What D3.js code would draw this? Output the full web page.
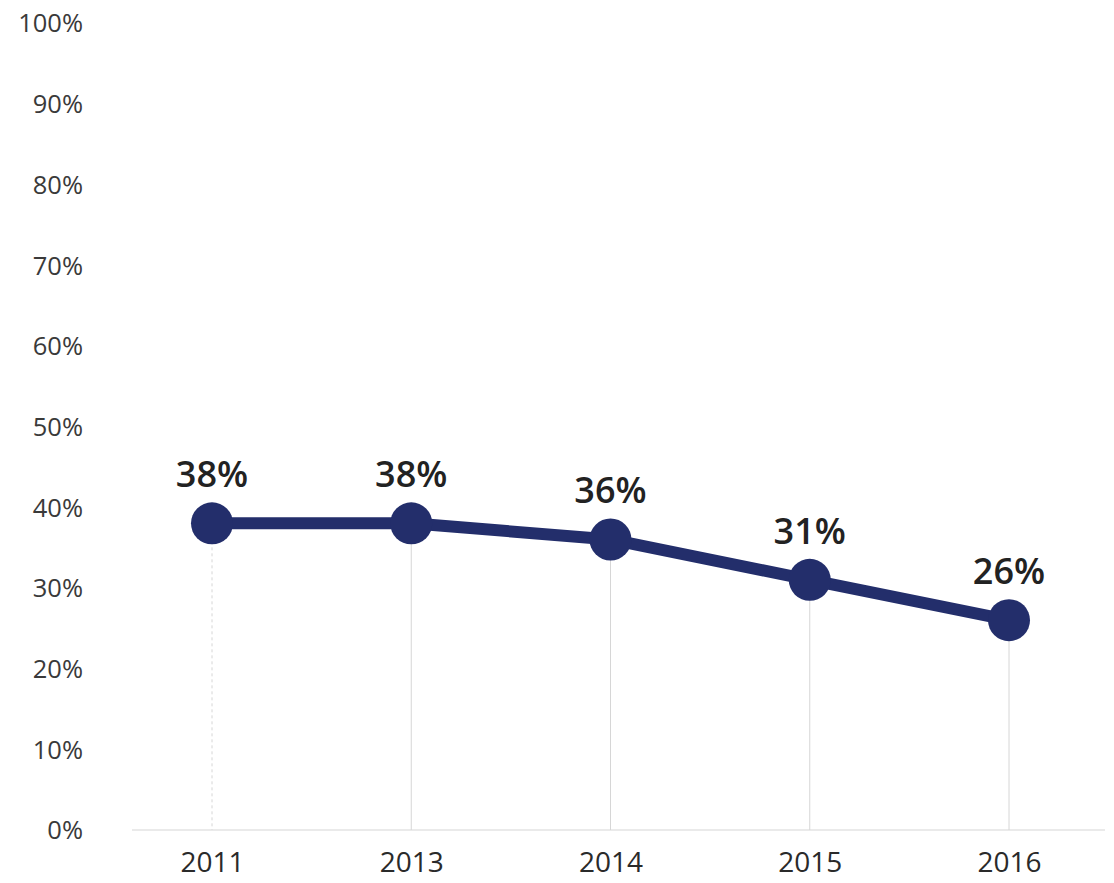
<!DOCTYPE html>
<html><head><meta charset="utf-8">
<script src="https://cdn.jsdelivr.net/npm/d3@7"></script>
<style>body{margin:0;background:#fff;}svg{display:block;}</style>
</head><body>
<svg id="chart" width="1114" height="883"></svg>
<script>
const years = ["2011","2013","2014","2015","2016"];
const values = [38, 38, 36, 31, 26];
const yTicks = [0,10,20,30,40,50,60,70,80,90,100];

const svg = d3.select("#chart");
const x = d3.scalePoint().domain(years).range([212, 1009]);
const y = d3.scaleLinear().domain([0,100]).range([830, 23]);
const navy = "#232e6b";
const font = "'Open Sans', sans-serif";

// baseline
svg.append("line").attr("x1",132).attr("x2",1105).attr("y1",y(0)).attr("y2",y(0))
  .attr("stroke","#e3e3e3").attr("stroke-width",1.5);

// y axis
const yAxis = d3.axisLeft(y).tickValues(yTicks).tickFormat(d=>d+"%").tickSize(0).tickPadding(0);
const gy = svg.append("g").attr("transform","translate(83,0)").call(yAxis);
gy.select(".domain").remove();
gy.selectAll("text").attr("font-family",font).attr("font-size",25.5).attr("fill","#3a3a3a").attr("dy","0.35em");

// x axis
const xAxis = d3.axisBottom(x).tickSize(0).tickPadding(0);
const gx = svg.append("g").attr("transform","translate(0,852)").call(xAxis);
gx.select(".domain").remove();
gx.selectAll("text").attr("font-family",font).attr("font-size",28).attr("fill","#2a2a2a").attr("dy","0.71em");

// drop lines
svg.append("g").selectAll("line").data(values).join("line")
  .attr("x1",(d,i)=>x(years[i])).attr("x2",(d,i)=>x(years[i]))
  .attr("y1",d=>y(d)).attr("y2",y(0))
  .attr("stroke","#d6d6d6").attr("stroke-width",1)
  .attr("stroke-dasharray",(d,i)=>i===0?"3,3":null);

// line
const line = d3.line().x((d,i)=>x(years[i])).y(d=>y(d));
svg.append("path").datum(values).attr("d",line).attr("fill","none")
  .attr("stroke",navy).attr("stroke-width",12).attr("stroke-linejoin","round");

// points
svg.append("g").selectAll("circle").data(values).join("circle")
  .attr("cx",(d,i)=>x(years[i])).attr("cy",d=>y(d)).attr("r",21).attr("fill",navy);

// labels
svg.append("g").selectAll("text").data(values).join("text")
  .attr("x",(d,i)=>x(years[i])).attr("y",d=>y(d)-36)
  .attr("text-anchor","middle").attr("font-family",font).attr("font-weight",600)
  .attr("font-size",36).attr("fill","#222").text(d=>d+"%");
</script>
</body></html>
